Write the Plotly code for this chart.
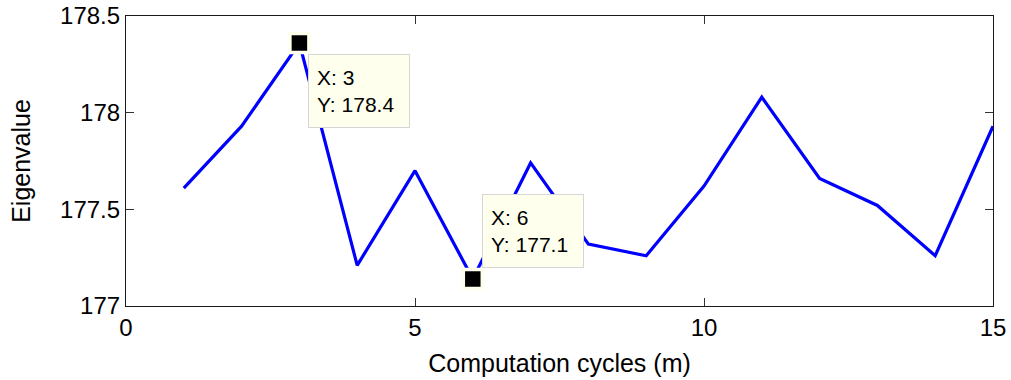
import plotly.graph_objects as go

# Eigenvalue at each computation cycle
cycles = list(range(1, 16))
eigenvalues = [177.61, 177.93, 178.36, 177.21, 177.70, 177.14, 177.74, 177.32,
               177.26, 177.62, 178.08, 177.66, 177.52, 177.26, 177.93]

# Points marked with data tips, and where each tip box sits relative to its point
tip_cycles = [3, 6]
tip_sides = ["below", "above"]

x_ticks = [0, 5, 10, 15]
y_ticks = [177, 177.5, 178, 178.5]
y_tick_text = ["177", "177.5", "178", "178.5"]

FONT = "Arial, Liberation Sans, sans-serif"
TIP_BG = "#FFFFEE"

fig = go.Figure()

fig.add_trace(go.Scatter(
    x=cycles, y=eigenvalues, mode="lines",
    line=dict(color="#0000FF", width=3.2),
    hoverinfo="skip", showlegend=False,
))

tip_y = [eigenvalues[cycles.index(c)] for c in tip_cycles]
fig.add_trace(go.Scatter(
    x=tip_cycles, y=tip_y, mode="markers",
    marker=dict(symbol="square", size=19, color="black",
                line=dict(color=TIP_BG, width=3.5)),
    hoverinfo="skip", showlegend=False,
))

for c, v, side in zip(tip_cycles, tip_y, tip_sides):
    below = side == "below"
    fig.add_annotation(
        x=c, y=v, xref="x", yref="y",
        text=f"X: {c}<br>Y: {v:.1f}",
        showarrow=True, arrowcolor="rgba(0,0,0,0)", arrowwidth=0.1,
        ax=9, ay=11 if below else -11,
        xanchor="left", yanchor="top" if below else "bottom",
        align="left", width=84, height=56,
        bgcolor=TIP_BG, bordercolor="#D6D6D6", borderwidth=1, borderpad=8,
        font=dict(family=FONT, size=21, color="black"),
    )

axis_common = dict(
    showline=True, linecolor="#1a1a1a", linewidth=1.2,
    mirror="ticks", ticks="inside", ticklen=8, tickwidth=1, tickcolor="#333333",
    showgrid=False, zeroline=False, automargin=False,
    tickfont=dict(family=FONT, size=24, color="black"),
)

fig.update_xaxes(
    range=[0, 15], tickvals=x_ticks,
    title=dict(text="Computation cycles (m)", font=dict(family=FONT, size=25, color="black"),
               standoff=14),
    **axis_common,
)
fig.update_yaxes(
    range=[177, 178.5], tickvals=y_ticks, ticktext=y_tick_text,
    title=dict(text="Eigenvalue", font=dict(family=FONT, size=25, color="black"),
               standoff=22),
    **axis_common,
)

fig.update_layout(
    width=1011, height=380,
    margin=dict(l=126, r=18, t=16, b=74, autoexpand=False),
    paper_bgcolor="white", plot_bgcolor="white",
)

fig.write_html("out.html")
